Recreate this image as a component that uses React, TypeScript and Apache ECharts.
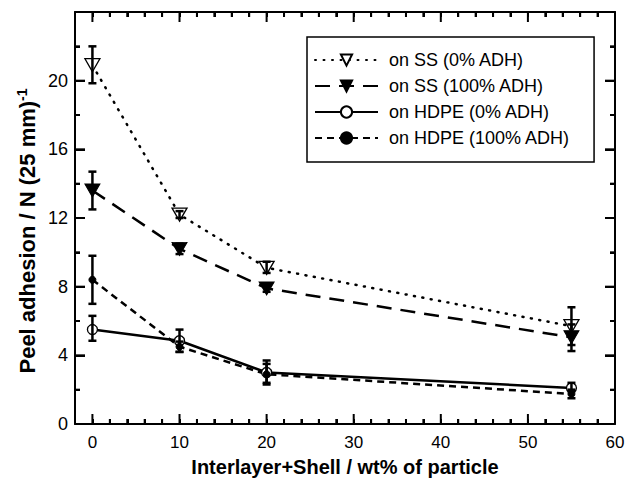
import React, { useEffect, useRef } from "react";
import * as echarts from "echarts";

const xValues = [0, 10, 20, 55];
const ss0 = [20.9, 12.2, 9.1, 5.7];
const ss0Lo = [19.85, 12.0, 8.8, 4.6];
const ss0Hi = [22.0, 12.4, 9.45, 6.8];
const ss100 = [13.6, 10.2, 7.9, 5.05];
const ss100Lo = [12.5, 9.9, 7.7, 4.25];
const ss100Hi = [14.7, 10.5, 8.1, 5.8];
const hdpe0 = [5.5, 4.85, 3.0, 2.1];
const hdpe0Lo = [4.85, 4.2, 2.3, 1.9];
const hdpe0Hi = [6.3, 5.5, 3.7, 2.4];
const hdpe100 = [8.4, 4.5, 2.9, 1.75];
const hdpe100Lo = [7.0, 4.2, 2.4, 1.5];
const hdpe100Hi = [9.8, 4.8, 3.5, 2.0];
const seriesNames = ["on SS (0% ADH)", "on SS (100% ADH)", "on HDPE (0% ADH)", "on HDPE (100% ADH)"];
const xRange = [-2, 60];
const yRange = [0, 24];
const xTickLabels = [0, 10, 20, 30, 40, 50, 60];
const xMinorTicks = [-2, 0, 2, 4, 6, 8, 10, 12, 14, 16, 18, 20, 22, 24, 26, 28, 30, 32, 34, 36, 38, 40, 42, 44, 46, 48, 50, 52, 54, 56, 58, 60];
const yTickLabels = [0, 4, 8, 12, 16, 20];
const yMajorTicks = [0, 4, 8, 12, 16, 20, 24];
const yMinorTicks = [0, 2, 4, 6, 8, 10, 12, 14, 16, 18, 20, 22, 24];
const xAxisTitle = "Interlayer+Shell / wt% of particle";
const yAxisTitle = "Peel adhesion / N (25 mm)";
const yAxisTitleSup = "-1";

const FONT = "Liberation Sans, Arial, Helvetica, sans-serif";

export default function App() {
  const ref = useRef<HTMLDivElement>(null);
  useEffect(() => {
    if (!ref.current) return;
    const chart = echarts.init(ref.current, undefined, { renderer: "svg" });
    const pair = (ys: number[]) => xValues.map((x, i) => [x, ys[i]]);
    const errData = (lo: number[], hi: number[]) => xValues.map((x, i) => [x, lo[i], hi[i]]);
    const black = "#000";
    const tickStyle = { stroke: black, lineWidth: 2, fill: "none" };
    const errSeries = (lo: number[], hi: number[]) => ({
      type: "custom",
      xAxisIndex: 0,
      yAxisIndex: 0,
      z: 5,
      silent: true,
      data: errData(lo, hi),
      encode: { x: 0, y: [1, 2] },
      renderItem: (params: any, api: any) => {
        const x = api.value(0);
        const p1 = api.coord([x, api.value(1)]);
        const p2 = api.coord([x, api.value(2)]);
        const w = 4;
        const st = { stroke: black, lineWidth: 2.5, fill: "none" };
        return {
          type: "group",
          children: [
            { type: "line", shape: { x1: p1[0], y1: p1[1], x2: p2[0], y2: p2[1] }, style: st },
            { type: "line", shape: { x1: p1[0] - w, y1: p1[1], x2: p1[0] + w, y2: p1[1] }, style: st },
            { type: "line", shape: { x1: p2[0] - w, y1: p2[1], x2: p2[0] + w, y2: p2[1] }, style: st },
          ],
        };
      },
    });
    // inside ticks on all four sides, placed through the axes' own scales
    const xTickSeries = {
      type: "custom", xAxisIndex: 0, yAxisIndex: 0, z: 6, silent: true, clip: false,
      data: xMinorTicks.map((v) => [v, 0, xTickLabels.indexOf(v) >= 0 ? 1 : 0]),
      encode: { x: 0, y: 1 },
      renderItem: (params: any, api: any) => {
        const v = api.value(0);
        const len = api.value(2) ? 10 : 5;
        const b = api.coord([v, yRange[0]]);
        const t = api.coord([v, yRange[1]]);
        return {
          type: "group",
          children: [
            { type: "line", shape: { x1: b[0], y1: b[1], x2: b[0], y2: b[1] - len }, style: tickStyle },
            { type: "line", shape: { x1: t[0], y1: t[1], x2: t[0], y2: t[1] + len }, style: tickStyle },
          ],
        };
      },
    };
    const yTickSeries = {
      type: "custom", xAxisIndex: 0, yAxisIndex: 0, z: 6, silent: true, clip: false,
      data: yMinorTicks.map((v) => [xRange[0], v, yMajorTicks.indexOf(v) >= 0 ? 1 : 0]),
      encode: { x: 0, y: 1 },
      renderItem: (params: any, api: any) => {
        const v = api.value(1);
        const len = api.value(2) ? 10 : 5;
        const l = api.coord([xRange[0], v]);
        const r = api.coord([xRange[1], v]);
        return {
          type: "group",
          children: [
            { type: "line", shape: { x1: l[0], y1: l[1], x2: l[0] + len, y2: l[1] }, style: tickStyle },
            { type: "line", shape: { x1: r[0], y1: r[1], x2: r[0] - len, y2: r[1] }, style: tickStyle },
          ],
        };
      },
    };
    const axisLineStyle = { color: black, width: 2 };
    const option: any = {
      animation: false,
      grid: { left: 75, right: 11, top: 12, bottom: 57, containLabel: false, outerBoundsMode: "none" },
      xAxis: [
        {
          type: "value", position: "bottom", min: xRange[0], max: xRange[1],
          axisLine: { show: true, onZero: false, lineStyle: { color: black, width: 2 } },
          axisTick: { show: true, inside: true, length: 5, customValues: xMinorTicks, lineStyle: { color: black, width: 2 } },
          axisLabel: { show: true, customValues: xTickLabels, fontSize: 17, color: black, margin: 10, fontFamily: FONT },
          splitLine: { show: false },
          name: xAxisTitle,
          nameLocation: "middle",
          nameGap: 33,
          nameTextStyle: { fontSize: 20, fontWeight: "bold", color: black, fontFamily: FONT },
        },
        {
          type: "value", position: "top", min: xRange[0], max: xRange[1],
          axisLine: { show: true, onZero: false, lineStyle: { color: black, width: 2 } },
          axisTick: { show: true, inside: true, length: 5, customValues: xMinorTicks, lineStyle: { color: black, width: 2 } },
          axisLabel: { show: false },
          splitLine: { show: false },
        },
      ],
      yAxis: [
        {
          type: "value", position: "left", min: yRange[0], max: yRange[1], interval: 4,
          axisLine: { show: true, onZero: false, lineStyle: { color: black, width: 2 } },
          axisTick: { show: true, inside: true, length: 10, lineStyle: { color: black, width: 2 } },
          minorTick: { show: true, splitNumber: 2, length: 5, lineStyle: { color: black, width: 2 } },
          axisLabel: { show: true, customValues: yTickLabels, fontSize: 18, color: black, margin: 7, fontFamily: FONT },
          splitLine: { show: false },
        },
        {
          type: "value", position: "right", min: yRange[0], max: yRange[1], interval: 4,
          axisLine: { show: true, onZero: false, lineStyle: { color: black, width: 2 } },
          axisTick: { show: true, inside: true, length: 10, lineStyle: { color: black, width: 2 } },
          minorTick: { show: true, splitNumber: 2, length: 5, lineStyle: { color: black, width: 2 } },
          axisLabel: { show: false },
          splitLine: { show: false },
        },
      ],
      graphic: [
        {
          type: "text",
          x: 27,
          y: 231,
          rotation: Math.PI / 2,
          style: {
            text: yAxisTitle + "{sup|" + yAxisTitleSup + "}",
            fontSize: 22,
            fontWeight: "bold",
            fontFamily: FONT,
            fill: black,
            align: "center",
            verticalAlign: "middle",
            rich: {
              sup: { fontSize: 14, fontWeight: "bold", fontFamily: FONT, fill: black, verticalAlign: "top", padding: [0, 0, 10, 0] },
            },
          },
        },
      ],
      legend: {
        data: seriesNames,
        orient: "vertical",
        left: 307,
        top: 37,
        padding: [13, 24, 14, 7],
        itemGap: 6,
        itemWidth: 63,
        itemHeight: 14,
        borderColor: black,
        borderWidth: 1.5,
        borderRadius: 0,
        backgroundColor: "#fff",
        z: 10,
        textStyle: { fontSize: 18, lineHeight: 20, color: black, fontFamily: FONT, padding: [0, 0, 0, 6] },
      },
      series: [
        {
          name: seriesNames[0], type: "line", xAxisIndex: 0, yAxisIndex: 0, data: pair(ss0),
          symbol: "triangle", symbolSize: [15, 13], symbolRotate: 180,
          itemStyle: { color: "#fff", borderColor: black, borderWidth: 1.3 },
          lineStyle: { color: black, width: 2.5, type: [1, 7.5], cap: "round" },
          z: 2,
        },
        {
          name: seriesNames[1], type: "line", xAxisIndex: 0, yAxisIndex: 0, data: pair(ss100),
          symbol: "triangle", symbolSize: [15, 13], symbolRotate: 180,
          itemStyle: { color: black, borderColor: black, borderWidth: 1 },
          lineStyle: { color: black, width: 2.5, type: [15, 9] },
          z: 2,
        },
        {
          name: seriesNames[2], type: "line", xAxisIndex: 0, yAxisIndex: 0, data: pair(hdpe0),
          symbol: "circle", symbolSize: 10,
          itemStyle: { color: "#fff", borderColor: black, borderWidth: 1.3 },
          lineStyle: { color: black, width: 2.5, type: "solid" },
          z: 2,
        },
        {
          name: seriesNames[3], type: "line", xAxisIndex: 0, yAxisIndex: 0, data: pair(hdpe100),
          symbol: "circle", symbolSize: 7,
          itemStyle: { color: black, borderColor: black, borderWidth: 1 },
          lineStyle: { color: black, width: 2.5, type: [7, 5] },
          z: 2,
        },
        errSeries(ss0Lo, ss0Hi),
        errSeries(ss100Lo, ss100Hi),
        errSeries(hdpe0Lo, hdpe0Hi),
        errSeries(hdpe100Lo, hdpe100Hi),
        xTickSeries,
        yTickSeries,
      ],
    };
    chart.setOption(option);
    return () => chart.dispose();
  }, []);
  return <div ref={ref} style={{ width: 626, height: 481, position: "absolute", left: 0, top: 0, background: "#fff" }} />;
}
